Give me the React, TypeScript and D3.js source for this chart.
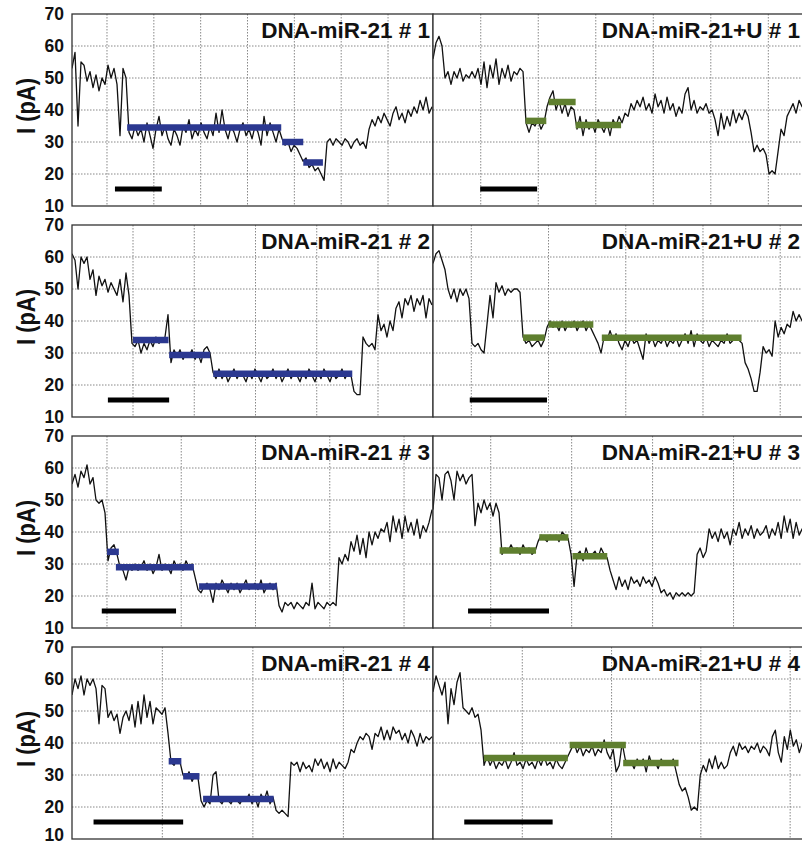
import React from "react";
import * as d3 from "d3";

// ---------- data ----------
const yTicks = [10, 20, 30, 40, 50, 60, 70];
const yDomain = [10, 70];

const titles = [
  "DNA-miR-21 # 1", "DNA-miR-21+U # 1",
  "DNA-miR-21 # 2", "DNA-miR-21+U # 2",
  "DNA-miR-21 # 3", "DNA-miR-21+U # 3",
  "DNA-miR-21 # 4", "DNA-miR-21+U # 4",
];

// x domain of each panel (time units; one grid step = scale bar)
const xDomains = [
  [0.253, 7.96], [0.17, 6.69],
  [0.004, 5.898], [0.504, 5.36],
  [0.529, 5.39], [0.287, 4.92],
  [0.002, 3.99], [0.0, 4.2],
];

// sample interval of each trace (time units)
const sampleDt = [0.06406, 0.05217, 0.04898, 0.03886, 0.0404, 0.03708, 0.03315, 0.03363];

// current traces (pA)
const trace1 = [53,58,35,55,54,49,52,47,51,46,50,48,54,50,53,48,32,53,50,33,
  31,35,32,34,30,36,32,28,34,38,32,35,31,29,34,32,29,35,33,37,31,34,32,36,33,31,35,32,39,33,
  40,34,31,35,33,30,34,36,32,34,31,35,33,29,38,32,36,33,30,34,
  31,29,30,27,29,28,26,24,25,22,23,21,22,20,18,30,31,29,31,30,29,31,30,28,30,31,29,30,28,
  34,37,35,38,36,39,37,35,39,41,37,39,36,40,38,41,39,43,40,44,39,41];
const trace2 = [56,61,63,60,50,52,48,52,50,53,49,51,50,52,50,53,48,55,47,54,50,56,48,53,50,54,49,52,51,53,52,
  36,33,36,35,37,34,36,41,44,46,40,43,39,42,38,41,40,34,38,32,37,34,36,33,37,35,33,36,32,37,35,38,
  36,39,38,42,40,43,41,44,40,42,39,45,41,43,39,44,40,42,38,41,39,45,47,40,43,39,41,40,42,39,40,37,
  32,39,34,38,35,40,36,39,37,40,38,33,27,29,27,28,26,20,21,20,27,34,32,38,40,42,39,43,41,44,42];
const trace3 = [61,59,50,60,58,60,53,56,48,54,51,53,49,52,50,48,53,46,55,48,
  33,32,34,30,33,31,34,32,35,33,34,35,42,27,31,29,31,28,30,29,31,28,30,27,31,32,30,24,22,
  25,22,24,21,23,25,22,24,23,21,24,22,25,23,21,24,22,23,25,22,24,21,23,25,22,24,23,21,24,22,25,23,21,24,22,25,23,21,24,22,23,25,22,24,
  23,18,17,17,35,33,32,33,31,42,37,39,35,40,37,44,46,41,47,45,48,43,47,45,48,41,47,45];
const trace4 = [58,61,62,59,56,50,47,50,46,50,48,50,47,33,32,33,31,30,39,48,41,52,49,51,48,50,49,50,50,49,
  35,33,34,32,33,34,32,34,38,40,38,39,37,40,37,39,38,40,37,39,40,37,39,37,35,33,30,
  35,34,37,34,36,33,31,34,32,35,33,34,31,28,36,33,35,32,34,33,35,32,34,33,35,32,34,36,33,37,32,36,34,33,35,32,34,33,32,34,33,36,33,34,35,34,33,
  27,25,22,18,18,24,32,30,31,29,40,35,38,36,39,38,43,40,42,40,41,42];
const trace5 = [55,58,54,59,57,61,55,57,50,49,50,46,31,35,36,33,29,28,25,29,28,
  30,28,29,31,28,30,27,29,33,28,30,29,27,31,29,30,28,31,29,30,
  26,22,21,23,24,22,18,24,22,25,23,21,24,22,24,21,23,25,22,23,24,22,25,21,23,24,22,24,
  17,15,18,17,18,16,18,17,16,18,17,24,16,18,17,16,18,17,18,17,
  32,30,33,31,37,34,39,33,38,32,40,36,40,38,41,40,43,37,45,40,44,38,45,40,43,39,44,38,42,40,43,47];
const trace6 = [47,58,57,50,58,59,56,50,59,56,58,55,57,58,42,49,46,50,47,49,45,49,46,
  33,35,34,36,34,35,33,36,34,35,33,34,37,39,38,37,39,38,39,37,40,39,38,33,23,
  33,34,31,35,32,33,34,32,35,33,32,28,25,22,26,23,25,22,26,24,25,23,26,24,25,23,26,24,
  21,22,20,21,19,21,20,21,20,21,20,21,33,35,32,34,41,38,40,37,41,38,40,36,41,39,43,38,41,39,42,38,41,39,40,42,38,41,39,43,38,45,40,44,38,43,39,41,40,42];
const trace7 = [55,60,57,61,55,60,58,60,57,46,58,57,48,50,47,49,43,48,50,47,52,45,53,46,55,48,53,46,51,50,49,51,43,
  34,33,35,34,30,29,31,28,30,29,22,20,22,21,30,31,22,21,23,22,21,23,22,21,23,22,24,21,23,20,24,22,25,21,23,
  19,18,19,18,17,34,33,34,31,34,32,33,31,35,33,35,32,34,31,35,32,34,33,32,34,
  38,37,40,42,41,43,42,38,43,42,45,41,44,41,45,43,44,41,43,40,44,42,39,43,40,42,41,42];
const trace8 = [56,61,58,55,59,46,57,52,59,62,51,50,49,51,48,49,44,
  33,36,33,35,32,34,33,35,32,34,37,33,34,32,35,33,34,32,35,33,36,33,34,32,35,33,32,34,
  36,38,40,37,39,36,38,37,39,36,38,37,41,37,35,38,31,33,40,
  35,33,34,32,35,33,35,31,36,33,34,32,35,33,34,33,35,31,
  27,25,26,23,19,20,19,30,33,31,35,32,36,32,34,32,33,
  37,39,36,40,38,39,37,39,38,40,37,39,38,36,42,44,37,34,42,38,44,39,41,37,40,39,40];
const traces = [trace1, trace2, trace3, trace4, trace5, trace6, trace7, trace8];

// fitted current levels: [start, end, level pA]
const levels1 = [[1.43, 4.72, 34.5], [4.74, 5.19, 30], [5.19, 5.61, 23.6]];
const levels2 = [[1.78, 2.14, 36.6], [2.18, 2.65, 42.5], [2.65, 3.44, 35.3]];
const levels3 = [[1.0, 1.58, 34.1], [1.59, 2.26, 29.4], [2.31, 4.58, 23.5]];
const levels4 = [[1.67, 1.95, 34.8], [2.0, 2.58, 38.9], [2.69, 4.5, 34.8]];
const levels5 = [[1.0, 1.16, 33.8], [1.12, 2.17, 29], [2.24, 3.29, 23]];
const levels6 = [[1.11, 1.56, 34.2], [1.6, 1.96, 38.3], [2.01, 2.44, 32.4]];
const levels7 = [[1.07, 1.21, 34.3], [1.23, 1.41, 29.6], [1.45, 2.23, 22.5]];
const levels8 = [[0.57, 1.51, 35.3], [1.53, 2.16, 39.4], [2.13, 2.75, 33.75]];
const levels = [levels1, levels2, levels3, levels4, levels5, levels6, levels7, levels8];

// scale bars: [start, end]
const scaleBars = [
  [1.17, 2.17], [0.99, 1.98],
  [0.59, 1.59], [0.98, 1.98],
  [0.93, 1.93], [0.72, 1.72],
  [0.24, 1.23], [0.35, 1.34],
];
const scaleBarLevel = 15.3;

const levelColors = ["#2b3890", "#5f7f2f"];

// ---------- layout ----------
const W = 802;
const H = 846;
const colX = [[72, 433], [433, 808]];
const rowTop0 = 14;
const rowStep = 211.0;
const panelH = 192;
const FONT = "'Liberation Sans', Arial, Helvetica, sans-serif";

function Panel({ idx }: { idx: number }) {
  const r = Math.floor(idx / 2);
  const c = idx % 2;
  const [x0, x1] = colX[c];
  const top = rowTop0 + r * rowStep;
  const x = d3.scaleLinear().domain(xDomains[idx]).range([x0, x1]);
  const y = d3.scaleLinear().domain(yDomain).range([top + panelH, top]);
  const t0 = xDomains[idx][0];
  const dt = sampleDt[idx];
  const line = d3
    .line<number>()
    .x((_, i) => x(t0 + i * dt))
    .y((v) => y(v));
  const [a, b] = xDomains[idx];
  const vGrid = d3.range(Math.ceil(a + 1e-6), Math.floor(b - 1e-6) + 1);
  const hGrid = yTicks.filter((t) => t > yDomain[0] && t < yDomain[1]);
  const clipId = `clip${idx}`;
  const titleX = Math.min(x1 - 3, W - 2);
  return (
    <g>
      <defs>
        <clipPath id={clipId}>
          <rect x={x0} y={top} width={x1 - x0} height={panelH} />
        </clipPath>
      </defs>
      <rect x={x0} y={top} width={x1 - x0} height={panelH} fill="#fff" />
      <g stroke="#7a7a7a" strokeWidth={0.9} strokeDasharray="1.5 1.5">
        {hGrid.map((t) => (
          <line key={"h" + t} x1={x0} x2={x1} y1={y(t)} y2={y(t)} />
        ))}
        {vGrid.map((t) => (
          <line key={"v" + t} x1={x(t)} x2={x(t)} y1={top} y2={top + panelH} />
        ))}
      </g>
      <g clipPath={`url(#${clipId})`}>
        <path d={line(traces[idx]) || ""} fill="none" stroke="#111" strokeWidth={1.3} strokeLinejoin="round" />
        {levels[idx].map((l, k) => (
          <line
            key={k}
            x1={x(l[0])}
            x2={x(l[1])}
            y1={y(l[2])}
            y2={y(l[2])}
            stroke={levelColors[c]}
            strokeWidth={6.5}
          />
        ))}
        <line
          x1={x(scaleBars[idx][0])}
          x2={x(scaleBars[idx][1])}
          y1={y(scaleBarLevel)}
          y2={y(scaleBarLevel)}
          stroke="#000"
          strokeWidth={5}
        />
      </g>
      <rect x={x0} y={top} width={x1 - x0} height={panelH} fill="none" stroke="#333" strokeWidth={1.3} />
      <text
        x={titleX}
        y={top + 23.5}
        textAnchor="end"
        fontFamily={FONT}
        fontWeight="bold"
        fontSize={22.5}
        fill="#111"
      >
        {titles[idx]}
      </text>
      {c === 0 && (
        <g>
          {yTicks.map((t) => (
            <text
              key={t}
              x={64}
              y={Math.min(y(t), H - 11)}
              dy="0.34em"
              textAnchor="end"
              fontFamily={FONT}
              fontWeight="bold"
              fontSize={17.5}
              fill="#111"
            >
              {t}
            </text>
          ))}
          <text
            transform={`translate(35, ${top + 92}) rotate(-90)`}
            textAnchor="middle"
            fontFamily={FONT}
            fontWeight="bold"
            fontSize={25}
            textLength={56}
            lengthAdjust="spacingAndGlyphs"
            fill="#111"
          >
            I (pA)
          </text>
        </g>
      )}
    </g>
  );
}

export default function App() {
  return (
    <div style={{ position: "absolute", left: 0, top: 0, width: W, height: H, overflow: "hidden", background: "#fff" }}>
      <svg width={W} height={H} viewBox={`0 0 ${W} ${H}`} style={{ display: "block" }}>
        <rect width={W} height={H} fill="#fff" />
        {titles.map((_, i) => (
          <Panel key={i} idx={i} />
        ))}
      </svg>
    </div>
  );
}
